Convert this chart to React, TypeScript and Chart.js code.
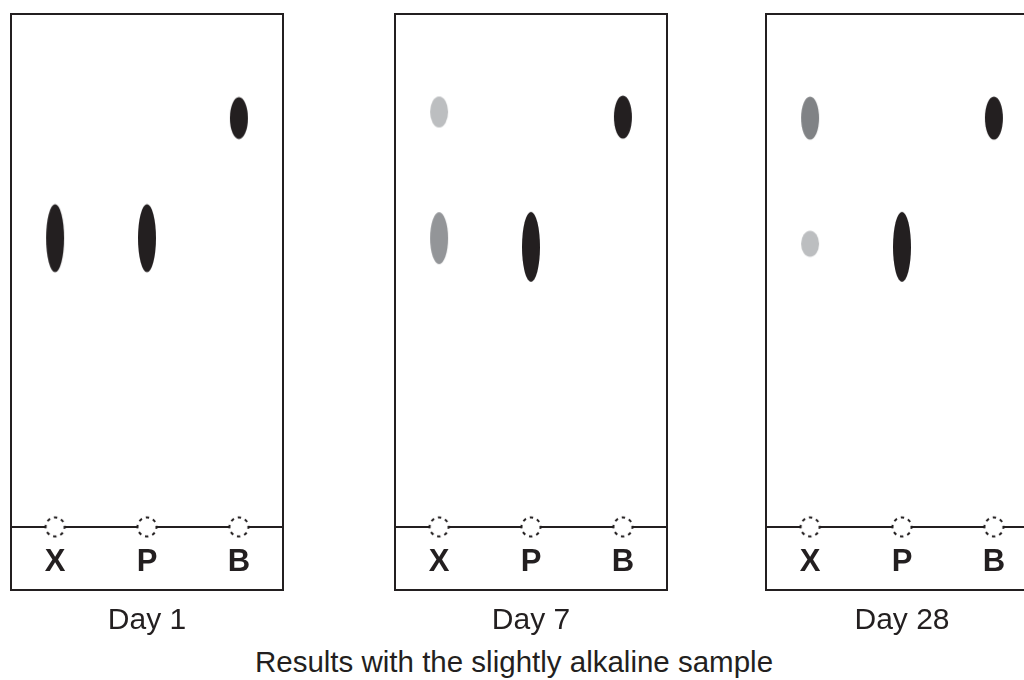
import React, { useEffect, useRef } from 'react';
import { Chart, registerables } from 'chart.js';

Chart.register(...registerables);

// ---------- data ----------
const LANES = ['X', 'P', 'B'];
const LANE_VALUES = [1, 2, 3];
const DAY_LABELS = ['Day 1', 'Day 7', 'Day 28'];
const CAPTION = 'Results with the slightly alkaline sample';

// Rf measured from the origin line (0) to the top edge of the plate (1)
const DAY1_SPOT_LANE = ['X', 'P', 'B'];
const DAY1_SPOT_RF = [0.563, 0.563, 0.797];
const DAY1_SPOT_SPREAD = [0.133, 0.133, 0.082];
const DAY1_SPOT_INTENSITY = [1, 1, 1];

const DAY7_SPOT_LANE = ['X', 'X', 'P', 'B'];
const DAY7_SPOT_RF = [0.809, 0.563, 0.546, 0.799];
const DAY7_SPOT_SPREAD = [0.06, 0.101, 0.136, 0.084];
const DAY7_SPOT_INTENSITY = [0.3, 0.5, 1, 1];

const DAY28_SPOT_LANE = ['X', 'X', 'P', 'B'];
const DAY28_SPOT_RF = [0.797, 0.552, 0.546, 0.797];
const DAY28_SPOT_SPREAD = [0.084, 0.051, 0.136, 0.084];
const DAY28_SPOT_INTENSITY = [0.6, 0.3, 1, 1];

// ---------- styles ----------
const INK = '#231f20';
const SHADE: Record<string, string> = {
  '1': '#231f20',
  '0.6': '#808285',
  '0.5': '#939598',
  '0.3': '#bcbec0',
};
const FONT = "'Liberation Sans', Arial, Helvetica, sans-serif";
const SPOT_WIDTH = 18;
const PLATE_W = 272;
const PAD_X = 10;

function ellipseImage(w: number, h: number, color: string) {
  const c = document.createElement('canvas');
  c.width = Math.ceil(w) + 2;
  c.height = Math.ceil(h) + 2;
  const g = c.getContext('2d')!;
  g.fillStyle = color;
  g.beginPath();
  g.ellipse(c.width / 2, c.height / 2, w / 2, h / 2, 0, 0, Math.PI * 2);
  g.fill();
  return c;
}

function originImage() {
  const c = document.createElement('canvas');
  c.width = 26;
  c.height = 26;
  const g = c.getContext('2d')!;
  g.fillStyle = '#ffffff';
  g.beginPath();
  g.arc(13, 13, 9.5, 0, Math.PI * 2);
  g.fill();
  g.setLineDash([3.4, 4.06]);
  g.lineDashOffset = 1.5;
  g.lineWidth = 2;
  g.strokeStyle = INK;
  g.stroke();
  return c;
}

const plateFrame = {
  id: 'plateFrame',
  beforeDatasetsDraw(chart: any) {
    const { ctx, chartArea } = chart;
    ctx.save();
    ctx.strokeStyle = INK;
    ctx.lineWidth = 2;
    ctx.strokeRect(chartArea.left, chartArea.top, chartArea.right - chartArea.left, chartArea.bottom - chartArea.top);
    ctx.restore();
  },
};

type PlateProps = {
  left: number;
  day: string;
  lanes: string[];
  rf: number[];
  spread: number[];
  intensity: number[];
};

function Plate({ left, day, lanes, rf, spread, intensity }: PlateProps) {
  const ref = useRef<HTMLCanvasElement>(null);
  useEffect(() => {
    const spots = rf.map((v, i) => ({ x: LANE_VALUES[LANES.indexOf(lanes[i])], y: v }));
    const origins = LANE_VALUES.map((v) => ({ x: v, y: 0 }));
    const origin = originImage();
    const chart = new Chart(ref.current!, {
      type: 'scatter',
      data: {
        datasets: [
          { data: origins, pointStyle: origin as any, pointRadius: 5, pointHitRadius: 0 },
          {
            data: spots,
            pointRadius: 5,
            pointHitRadius: 0,
            pointStyle: ((ctx: any) => {
              if (ctx.type !== 'data') return 'circle';
              const ys = ctx.chart.scales.y;
              const i = ctx.dataIndex;
              const h = Math.abs(
                ys.getPixelForValue(rf[i] + spread[i] / 2) - ys.getPixelForValue(rf[i] - spread[i] / 2)
              );
              return ellipseImage(SPOT_WIDTH, h, SHADE[String(intensity[i])]);
            }) as any,
          },
        ],
      },
      options: {
        responsive: false,
        animation: false,
        events: [],
        layout: { padding: { left: PAD_X, right: PAD_X, top: 14, bottom: 0 } },
        scales: {
          x: {
            type: 'linear',
            min: 0.52,
            max: 3.48,
            position: { y: 0 } as any,
            afterBuildTicks: (scale: any) => {
              scale.ticks = LANE_VALUES.map((v) => ({ value: v }));
            },
            grid: { display: false, drawTicks: false },
            border: { display: true, color: INK, width: 2 },
            ticks: {
              autoSkip: false,
              maxRotation: 0,
              padding: 17,
              color: INK,
              font: { family: FONT, size: 31, weight: 'bold' },
              callback: (v: any) => LANES[LANE_VALUES.indexOf(Number(v))] ?? '',
            },
          },
          y: { type: 'linear', min: -0.123, max: 1, display: false },
        },
        plugins: {
          legend: { display: false },
          tooltip: { enabled: false },
          title: {
            display: true,
            text: day,
            position: 'bottom',
            color: INK,
            font: { family: FONT, size: 30, weight: 'normal' },
            padding: { top: 13, bottom: 5 },
          },
        },
      },
      plugins: [plateFrame],
    });
    return () => chart.destroy();
  }, []);
  return (
    <canvas
      ref={ref}
      width={PLATE_W + PAD_X * 2}
      height={644}
      style={{ position: 'absolute', left: left - PAD_X, top: 0, width: PLATE_W + PAD_X * 2, height: 644 }}
    />
  );
}

export default function App() {
  return (
    <div
      style={{
        position: 'absolute',
        left: 0,
        top: 0,
        width: 1024,
        height: 680,
        overflow: 'hidden',
        background: '#ffffff',
      }}
    >
      <Plate left={11} day={DAY_LABELS[0]} lanes={DAY1_SPOT_LANE} rf={DAY1_SPOT_RF} spread={DAY1_SPOT_SPREAD} intensity={DAY1_SPOT_INTENSITY} />
      <Plate left={395} day={DAY_LABELS[1]} lanes={DAY7_SPOT_LANE} rf={DAY7_SPOT_RF} spread={DAY7_SPOT_SPREAD} intensity={DAY7_SPOT_INTENSITY} />
      <Plate left={766} day={DAY_LABELS[2]} lanes={DAY28_SPOT_LANE} rf={DAY28_SPOT_RF} spread={DAY28_SPOT_SPREAD} intensity={DAY28_SPOT_INTENSITY} />
      <div
        style={{
          position: 'absolute',
          left: 0,
          top: 644,
          width: 1028,
          height: 36,
          lineHeight: '36px',
          textAlign: 'center',
          fontFamily: FONT,
          fontSize: 29.5,
          color: INK,
        }}
      >
        {CAPTION}
      </div>
    </div>
  );
}
